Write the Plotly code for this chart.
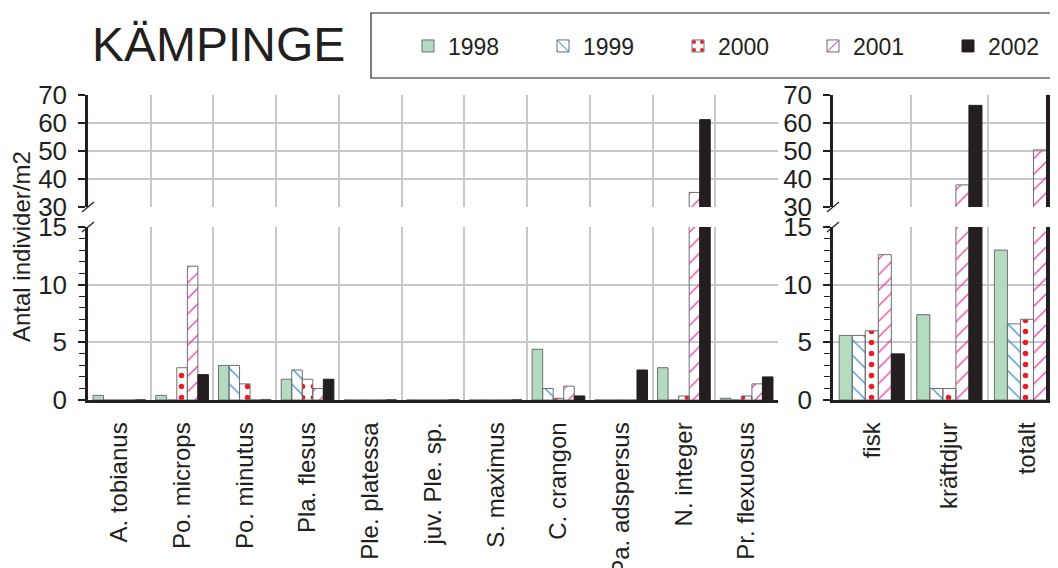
## Kämpinge - density per species and year, broken y axis
import plotly.graph_objects as go

## Data
species = ["A. tobianus", "Po. microps", "Po. minutus", "Pla. flesus",
           "Ple. platessa", "juv. Ple. sp.", "S. maximus", "C. crangon",
           "Pa. adspersus", "N. integer", "Pr. flexuosus"]
sp_1998 = [0.4, 0.4, 3.0, 1.8, 0, 0, 0, 4.4, 0, 2.8, 0.15]
sp_1999 = [0, 0, 3.0, 2.6, 0, 0, 0, 1.0, 0, 0, 0]
sp_2000 = [0, 2.8, 1.4, 1.8, 0, 0, 0, 0.15, 0, 0.35, 0.35]
sp_2001 = [0, 11.6, 0, 1.0, 0, 0, 0, 1.2, 0, 35.2, 1.4]
sp_2002 = [0, 2.2, 0, 1.8, 0, 0, 0, 0.35, 2.6, 61.2, 2.0]

groups = ["fisk", "kräftdjur", "totalt"]
grp_1998 = [5.6, 7.4, 13.0]
grp_1999 = [5.6, 1.0, 6.6]
grp_2000 = [6.0, 1.0, 7.0]
grp_2001 = [12.6, 37.9, 50.4]
grp_2002 = [4.0, 66.3, 70.3]

years = ["1998", "1999", "2000", "2001", "2002"]
sp_vals = [sp_1998, sp_1999, sp_2000, sp_2001, sp_2002]
grp_vals = [grp_1998, grp_1999, grp_2000, grp_2001, grp_2002]

#-------------------------------------------------------------------------------
## Page has an 8 px body margin, so the figure is sized to the window minus it
OFF = 8
W, H = 1058 - OFF, 568 - OFF
INK = "#231f20"
GRID = "#c8c8c8"
EDGE = "#6d6e71"
FONT = "Liberation Sans, Arial, sans-serif"

def px_x(p):
    return (p - OFF) / W

def px_y(p):
    return 1 - (p - OFF) / H

markers = [
    dict(color="#b3dbbf", line=dict(color=EDGE, width=1)),
    dict(color="white", line=dict(color=EDGE, width=1),
         pattern=dict(shape="\\", fgcolor="#3b92d1", size=11, solidity=0.12)),
    dict(color="white", line=dict(color=EDGE, width=1),
         pattern=dict(shape=".", fgcolor="#ed1c24", size=11, solidity=0.2)),
    dict(color="white", line=dict(color=EDGE, width=1),
         pattern=dict(shape="/", fgcolor="#ec3f9c", size=11, solidity=0.12)),
    dict(color=INK, line=dict(color=INK, width=1)),
]

fig = go.Figure()
# left panel: x/y bottom, x2/y2 top ; right panel: x3/y3 bottom, x4/y4 top
for i, yr in enumerate(years):
    for xa, ya in [("x", "y"), ("x2", "y2")]:
        fig.add_trace(go.Bar(x=list(range(len(species))), y=sp_vals[i],
            name=yr, marker=markers[i], legendgroup=yr,
            showlegend=(xa == "x"), xaxis=xa, yaxis=ya))
    for xa, ya in [("x3", "y3"), ("x4", "y4")]:
        fig.add_trace(go.Bar(x=list(range(len(groups))), y=grp_vals[i],
            name=yr, marker=markers[i], legendgroup=yr,
            showlegend=False, xaxis=xa, yaxis=ya))

#-------------------------------------------------------------------------------
## Axes
left_dom = [px_x(88), px_x(778)]
right_dom = [px_x(833), 1.0]
top_dom = [px_y(207), px_y(95)]
bot_dom = [px_y(400), px_y(227)]

xgrid = dict(tick0=0.5, dtick=1, showgrid=True, gridcolor=GRID,
             gridwidth=1.5, ticks="")
xbase = dict(showgrid=False, zeroline=False, minor=xgrid, fixedrange=True)
xbot = dict(xbase, showline=True, linecolor=INK, linewidth=2.5,
            tickmode="array", tickangle=-90, ticks="", ticklabelstandoff=10,
            tickfont=dict(size=24, color=INK, family=FONT))
xtop = dict(xbase, showline=False, showticklabels=False, ticks="")

ybase = dict(showline=True, linecolor=INK, linewidth=2.5, ticks="outside",
             ticklen=7, tickwidth=1.5, tickcolor=INK, showgrid=True,
             gridcolor=GRID, gridwidth=1.5, zeroline=False, fixedrange=True,
             ticklabelstandoff=6,
             tickfont=dict(size=26, color=INK, family=FONT))
ybot = dict(ybase, range=[0, 15], tickvals=[0, 5, 10, 15], domain=bot_dom,
            minor=dict(dtick=1, ticks="outside", ticklen=6, tickwidth=1.2,
                       tickcolor=INK, showgrid=False))
ytop = dict(ybase, range=[30, 70], tickvals=[30, 40, 50, 60, 70],
            domain=top_dom)

fig.update_layout(
    xaxis=dict(xbot, domain=left_dom, range=[-0.5, len(species) - 0.5],
               tickvals=list(range(len(species))), ticktext=species,
               anchor="y"),
    xaxis2=dict(xtop, domain=left_dom, range=[-0.5, len(species) - 0.5],
                anchor="y2"),
    xaxis3=dict(xbot, domain=right_dom, range=[-0.5, 2.4],
                tickvals=list(range(len(groups))), ticktext=groups,
                anchor="y3"),
    xaxis4=dict(xtop, domain=right_dom, range=[-0.5, 2.4], anchor="y4"),
    yaxis=dict(ybot, anchor="x"),
    yaxis2=dict(ytop, anchor="x2"),
    yaxis3=dict(ybot, anchor="x3"),
    yaxis4=dict(ytop, anchor="x4"),
)

#-------------------------------------------------------------------------------
## Break marks, legend frame, titles
shapes = []
for xl in [88, 833]:
    for yb in [207, 227]:
        shapes.append(dict(type="line", xref="paper", yref="paper",
            x0=px_x(xl - 6), y0=px_y(yb + 5), x1=px_x(xl + 6),
            y1=px_y(yb - 5), line=dict(color=INK, width=1.2)))
shapes.append(dict(type="rect", xref="paper", yref="paper",
    x0=px_x(371), x1=1.05, y0=px_y(78), y1=px_y(13),
    line=dict(color=INK, width=1.2), fillcolor="rgba(0,0,0,0)"))

fig.update_layout(
    width=W, height=H,
    template="none",
    barmode="group", bargap=0.16, bargroupgap=0,
    paper_bgcolor="white", plot_bgcolor="white",
    margin=dict(l=0, r=0, t=0, b=0, autoexpand=False),
    font=dict(family=FONT, color=INK),
    shapes=shapes,
    legend=dict(orientation="h", x=px_x(408), xanchor="left",
                y=px_y(46), yanchor="middle", entrywidth=90,
                entrywidthmode="pixels", bgcolor="rgba(0,0,0,0)",
                borderwidth=0, font=dict(size=23, color=INK, family=FONT)),
    annotations=[
        dict(text="KÄMPINGE", xref="paper", yref="paper", x=px_x(90),
             y=px_y(45), xanchor="left", yanchor="middle", showarrow=False,
             font=dict(size=48, color=INK, family=FONT)),
        dict(text="Antal individer/m2", xref="paper", yref="paper",
             x=px_x(21), y=px_y(247), xanchor="center", yanchor="middle",
             textangle=-90, showarrow=False,
             font=dict(size=24, color=INK, family=FONT)),
    ],
)

fig.write_html("out.html")
